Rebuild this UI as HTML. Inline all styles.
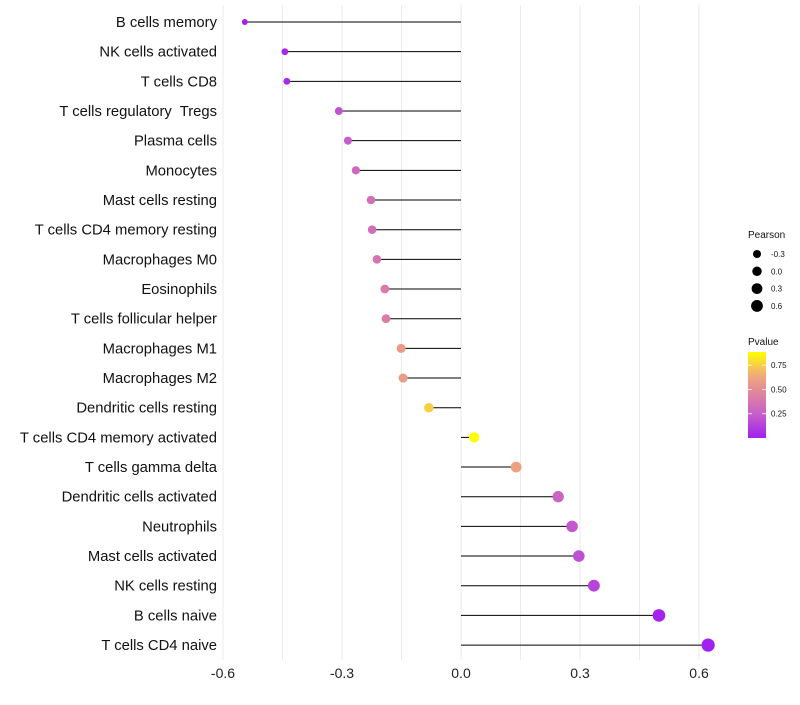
<!DOCTYPE html>
<html><head><meta charset="utf-8"><style>
body{margin:0;background:#fff;font-family:"Liberation Sans",sans-serif}
text{white-space:pre}
</style></head><body>
<svg id="c" width="800" height="700" xmlns="http://www.w3.org/2000/svg"></svg>
<script>
const categories=["B cells memory","NK cells activated","T cells CD8","T cells regulatory  Tregs","Plasma cells","Monocytes","Mast cells resting","T cells CD4 memory resting","Macrophages M0","Eosinophils","T cells follicular helper","Macrophages M1","Macrophages M2","Dendritic cells resting","T cells CD4 memory activated","T cells gamma delta","Dendritic cells activated","Neutrophils","Mast cells activated","NK cells resting","B cells naive","T cells CD4 naive"];
const pearson=[-0.545,-0.444,-0.439,-0.308,-0.285,-0.265,-0.227,-0.224,-0.212,-0.192,-0.189,-0.151,-0.146,-0.081,0.033,0.139,0.245,0.28,0.297,0.335,0.499,0.623];
const pvalues=[0.01,0.04,0.04,0.2,0.24,0.3,0.34,0.34,0.37,0.4,0.41,0.58,0.58,0.75,0.885,0.6,0.28,0.22,0.19,0.14,0.02,0.003];
const xTicks=[-0.6,-0.3,0,0.3,0.6];
const sizeTicks=[-0.3,0,0.3,0.6];
const pTicks=[0.25,0.5,0.75];
const NS="http://www.w3.org/2000/svg";
const svg=document.getElementById('c');
function el(t,a,p){const e=document.createElementNS(NS,t);for(const k in a)e.setAttribute(k,a[k]);(p||svg).appendChild(e);return e;}
const x=v=>461+v*396.7;
const y=i=>22+i*29.67;
const rad=v=>Math.sqrt(Math.max(2.25,25+30*v));
const stops=[[0,[160,32,240]],[0.25,[200,96,200]],[0.5,[228,140,150]],[0.65,[240,172,120]],[0.885,[255,255,0]]];
function col(p){p=Math.min(Math.max(p,0),0.885);for(let i=1;i<stops.length;i++){if(p<=stops[i][0]){const a=stops[i-1],b=stops[i],t=(p-a[0])/(b[0]-a[0]);return 'rgb('+a[1].map((c,k)=>Math.round(c+(b[1][k]-c)*t)).join(',')+')';}}return 'rgb(255,255,0)';}
for(let g=-0.6;g<=0.61;g+=0.15){const l=el('line',{x1:x(g),x2:x(g),y1:5,y2:660,stroke:'#ebebeb','stroke-width':1});

}
xTicks.forEach(t=>{const tx=el('text',{x:x(t),y:678,'text-anchor':'middle','font-size':14,fill:'#222'});tx.textContent=(t===0?'0.0':t.toFixed(1));

});
categories.forEach((c,i)=>{
const lb=el('text',{x:217,y:y(i)+5,'text-anchor':'end','font-size':14.8,fill:'#111'});lb.textContent=c;


const ln=el('line',{x1:x(0),x2:x(pearson[i]),y1:y(i),y2:y(i),stroke:'#000','stroke-width':1});


const pt=el('circle',{cx:x(pearson[i]),cy:y(i),r:rad(pearson[i]),fill:col(pvalues[i])});


});
const lt=el('text',{x:748,y:238,'font-size':10,fill:'#111'});lt.textContent='Pearson';


sizeTicks.forEach((s,i)=>{const cy=254+i*17.3;
const c=el('circle',{cx:757,cy:cy,r:rad(s)*0.75+1,fill:'#000'});


const t=el('text',{x:771,y:cy+3,'font-size':8,fill:'#111'});t.textContent=s.toFixed(1);

});
const pt2=el('text',{x:748,y:345,'font-size':10,fill:'#111'});pt2.textContent='Pvalue';


const defs=el('defs',{});const lg=el('linearGradient',{id:'g',x1:0,y1:1,x2:0,y2:0},defs);
stops.forEach(s=>el('stop',{offset:s[0]/0.885,'stop-color':'rgb('+s[1].join(',')+')'},lg));
const bar=el('rect',{x:748,y:352,width:18,height:86,fill:'url(#g)'});


pTicks.forEach(p=>{const yy=438-p/0.885*86;
el('line',{x1:748,x2:752,y1:yy,y2:yy,stroke:'#fff','stroke-width':0.8});el('line',{x1:762,x2:766,y1:yy,y2:yy,stroke:'#fff','stroke-width':0.8});
const t=el('text',{x:771,y:yy+3,'font-size':8,fill:'#111'});t.textContent=p.toFixed(2);

});
</script>
</body></html>
